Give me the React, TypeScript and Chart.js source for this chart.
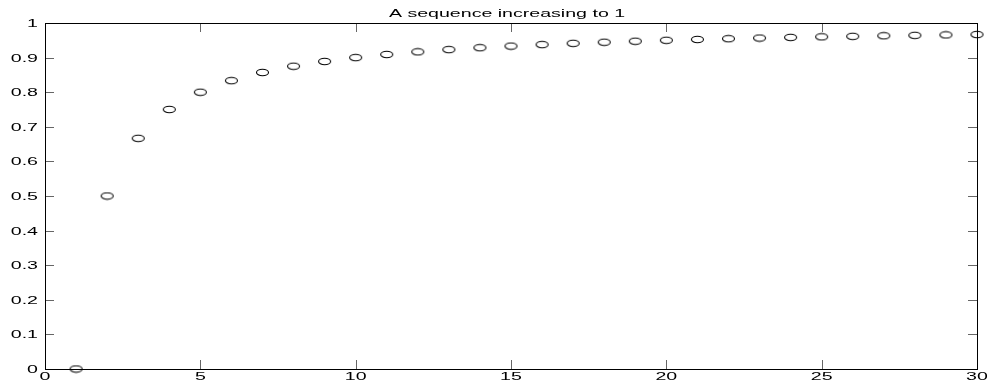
import React, { useEffect, useRef } from "react";
import { Chart, registerables } from "chart.js";

Chart.register(...registerables);

const xValues = [1, 2, 3, 4, 5, 6, 7, 8, 9, 10, 11, 12, 13, 14, 15, 16, 17, 18, 19, 20, 21, 22, 23, 24, 25, 26, 27, 28, 29, 30];
const yValues = [0, 0.5, 0.6667, 0.75, 0.8, 0.8333, 0.8571, 0.875, 0.8889, 0.9, 0.9091, 0.9167, 0.9231, 0.9286, 0.9333, 0.9375, 0.9412, 0.9444, 0.9474, 0.95, 0.9524, 0.9545, 0.9565, 0.9583, 0.96, 0.9615, 0.963, 0.9643, 0.9655, 0.9667];
const xTickValues = [0, 5, 10, 15, 20, 25, 30];
const xTickLabels = ["0", "5", "10", "15", "20", "25", "30"];
const yTickValues = [0, 0.1, 0.2, 0.3, 0.4, 0.5, 0.6, 0.7, 0.8, 0.9, 1];
const yTickLabels = ["0", "0.1", "0.2", "0.3", "0.4", "0.5", "0.6", "0.7", "0.8", "0.9", "1"];
const titleText = "A sequence increasing to 1";

const FONT = "'Liberation Sans', Arial, Helvetica, sans-serif";
const STRETCH = 1.78;

function makeMarker(): HTMLCanvasElement {
  const c = document.createElement("canvas");
  c.width = 15;
  c.height = 9;
  const ctx = c.getContext("2d")!;
  ctx.strokeStyle = "#000";
  ctx.lineWidth = 1.1;
  ctx.beginPath();
  ctx.ellipse(7.5, 4.5, 6, 3.3, 0, 0, Math.PI * 2);
  ctx.stroke();
  return c;
}

function wideText(ctx: CanvasRenderingContext2D, text: string, x: number, y: number, align: "left" | "center" | "right", baseline: CanvasTextBaseline) {
  ctx.save();
  ctx.translate(x, y);
  ctx.scale(STRETCH, 1);
  ctx.textAlign = align;
  ctx.textBaseline = baseline;
  ctx.fillText(text, 0, 0);
  ctx.restore();
}

const framePlugin = {
  id: "frame",
  beforeDatasetsDraw(chart: any) {
    const { ctx, chartArea, scales } = chart;
    const { left, right, top, bottom } = chartArea;
    const tl = 9;
    ctx.save();
    ctx.strokeStyle = "#666";
    ctx.lineWidth = 1;
    ctx.beginPath();
    yTickValues.forEach((v) => {
      const y = Math.round(scales.y.getPixelForValue(v)) + 0.5;
      ctx.moveTo(left, y);
      ctx.lineTo(left + tl, y);
      ctx.moveTo(right, y);
      ctx.lineTo(right - tl, y);
    });
    xTickValues.forEach((v) => {
      const x = Math.round(scales.x.getPixelForValue(v)) + 0.5;
      ctx.moveTo(x, bottom);
      ctx.lineTo(x, bottom - tl);
      ctx.moveTo(x, top);
      ctx.lineTo(x, top + tl);
    });
    ctx.stroke();
    ctx.strokeStyle = "#000";
    ctx.lineWidth = 1;
    ctx.strokeRect(Math.round(left) + 0.5, Math.round(top) + 0.5, Math.round(right - left), Math.round(bottom - top));
    ctx.fillStyle = "#000";
    ctx.font = `11px ${FONT}`;
    wideText(ctx, titleText, (left + right) / 2 - 4, 17, "center", "alphabetic");
    yTickValues.forEach((v, i) => {
      const y = scales.y.getPixelForValue(v);
      wideText(ctx, yTickLabels[i], left - 7, y + 1, "right", "middle");
    });
    xTickValues.forEach((v, i) => {
      const x = scales.x.getPixelForValue(v);
      wideText(ctx, xTickLabels[i], x, bottom + 8, "center", "middle");
    });
    ctx.restore();
  },
};

export default function App() {
  const ref = useRef<HTMLCanvasElement>(null);
  useEffect(() => {
    const marker = makeMarker();
    const chart = new Chart(ref.current!, {
      type: "scatter",
      data: {
        datasets: [
          {
            data: xValues.map((x, i) => ({ x, y: yValues[i] })),
            pointStyle: marker as any,
            pointRadius: 6,
            clip: false as any,
            showLine: false,
          },
        ],
      },
      options: {
        animation: false,
        responsive: false,
        maintainAspectRatio: false,
        layout: { padding: { left: 0, right: 10, top: 23, bottom: 0 } },
        plugins: { legend: { display: false }, tooltip: { enabled: false }, title: { display: false } },
        scales: {
          x: {
            type: "linear",
            min: 0,
            max: 30,
            grid: { display: false, drawTicks: false },
            border: { display: false },
            afterBuildTicks: (s: any) => {
              s.ticks = xTickValues.map((v) => ({ value: v }));
            },
            afterFit: (s: any) => {
              s.height = 16;
            },
            ticks: { display: false },
          },
          y: {
            type: "linear",
            min: 0,
            max: 1,
            grid: { display: false, drawTicks: false },
            border: { display: false },
            afterBuildTicks: (s: any) => {
              s.ticks = yTickValues.map((v) => ({ value: v }));
            },
            afterFit: (s: any) => {
              s.width = 45;
            },
            ticks: { display: false },
          },
        },
      },
      plugins: [framePlugin],
    });
    return () => chart.destroy();
  }, []);
  return (
    <div style={{ position: "fixed", left: 0, top: 0, width: 987, height: 385, background: "#fff" }}>
      <canvas ref={ref} width={987} height={385} style={{ width: 987, height: 385 }} />
    </div>
  );
}
